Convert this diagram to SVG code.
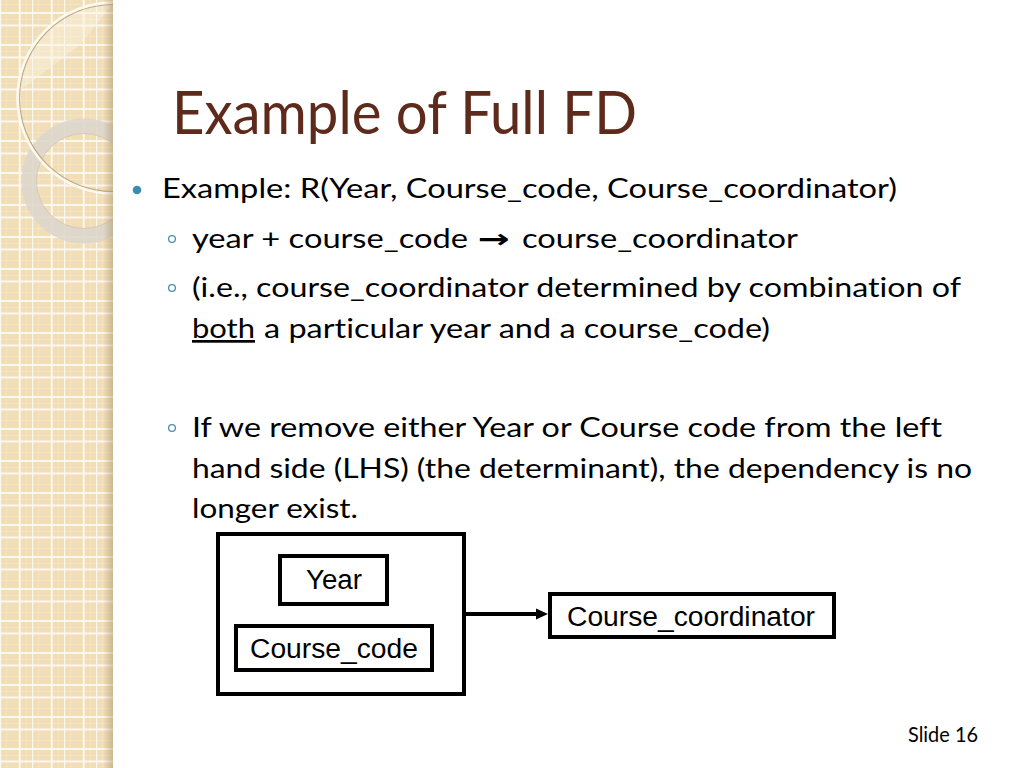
<svg xmlns="http://www.w3.org/2000/svg" width="1024" height="768" viewBox="0 0 1024 768">
  <defs>
    <style>
      .body { font-family: Lato, "Open Sans", "Liberation Sans", sans-serif; font-size: 27px; fill: #000; font-variant-ligatures: none; }
      .title { font-family: Lato, "Open Sans", "Liberation Sans", sans-serif; font-size: 60px; fill: #5e2a1b; font-variant-ligatures: none; }
      .foot { font-family: Lato, "Open Sans", "Liberation Sans", sans-serif; font-size: 21px; fill: #000; }
      .box { fill: #fff; stroke: #000; stroke-width: 4; }
      .lbl { font-family: "Liberation Sans", Arial, sans-serif; font-size: 27px; fill: #000; }
      .sub { fill: none; stroke: #4a8fae; stroke-width: 1.3; }
    </style>
    <pattern id="grid" x="0" y="0" width="32" height="32" patternUnits="userSpaceOnUse">
      <rect width="32" height="32" fill="#f1ddb6"/>
      <rect x="6" y="0" width="1" height="32" fill="#f6e7cb" opacity="0.7"/>
      <rect x="26" y="0" width="1" height="32" fill="#f6e7cb" opacity="0.7"/>
      <rect x="0" y="4" width="32" height="1" fill="#f6e7cb" opacity="0.7"/>
      <rect x="0" y="19" width="32" height="1" fill="#f6e7cb" opacity="0.7"/>
      <rect x="-0.8" y="0" width="2" height="32" fill="#fdf8ee"/>
      <rect x="18.7" y="0" width="2" height="32" fill="#fdf8ee"/>
      <rect x="0" y="12" width="32" height="2" fill="#fdf8ee"/>
      <rect x="0" y="24.5" width="32" height="2" fill="#fdf8ee"/>
    </pattern>
    <linearGradient id="edge" x1="0" y1="0" x2="1" y2="0">
      <stop offset="0" stop-color="#a08660" stop-opacity="0"/>
      <stop offset="1" stop-color="#a08660" stop-opacity="0.45"/>
    </linearGradient>
    <clipPath id="panel">
      <rect x="0" y="0" width="113" height="768"/>
    </clipPath>
    <clipPath id="bigc">
      <circle cx="113" cy="98" r="94"/>
    </clipPath>
    <marker id="arrow" viewBox="0 0 12 12" refX="1" refY="6" markerWidth="12" markerHeight="12" markerUnits="userSpaceOnUse" orient="auto">
      <path d="M0,0.5 L12,6 L0,11.5 z" fill="#000"/>
    </marker>
  </defs>

  <rect width="1024" height="768" fill="#fff"/>

  <!-- decorative side panel -->
  <g id="side-panel">
    <rect x="0" y="0" width="113" height="768" fill="url(#grid)"/>
    <g clip-path="url(#panel)">
      <path d="M0,0 L113,0 L113,3 L80,45 L18,92 L0,92 z" fill="#fbf3e3" opacity="0.45" clip-path="url(#bigc)"/>
      <circle cx="84" cy="181" r="55" fill="none" stroke="#ddd7cc" stroke-width="15" opacity="0.92"/>
      <circle cx="84" cy="181" r="47.5" fill="none" stroke="#c9bca6" stroke-width="1" opacity="0.6"/>
      <circle cx="113" cy="98" r="93.5" fill="none" stroke="#b49c76" stroke-width="1.2" opacity="0.8"/>
      <circle cx="113" cy="98" r="95.5" fill="none" stroke="#fdfaf2" stroke-width="2.5"/>
    </g>
    <rect x="103" y="0" width="10" height="768" fill="url(#edge)"/>
  </g>

  <!-- title -->
  <text id="title" class="title" x="172" y="134" textLength="465" lengthAdjust="spacingAndGlyphs">Example of Full FD</text>

  <!-- bullets -->
  <g id="bullets">
    <circle cx="137" cy="190" r="4.3" fill="#3b8db0"/>
    <text class="body" x="162" y="198" textLength="735" lengthAdjust="spacingAndGlyphs">Example: R(Year, Course_code, Course_coordinator)</text>

    <circle class="sub" cx="172" cy="239" r="3.4"/>
    <text class="body" x="192" y="248" textLength="276" lengthAdjust="spacingAndGlyphs">year + course_code</text>
    <text class="body" x="478" y="248" textLength="32" lengthAdjust="spacingAndGlyphs" style="font-family:'DejaVu Sans',sans-serif;font-weight:bold;font-size:26px">→</text>
    <text class="body" x="522" y="248" textLength="276" lengthAdjust="spacingAndGlyphs">course_coordinator</text>

    <circle class="sub" cx="172" cy="288" r="3.4"/>
    <text class="body" x="192" y="297" textLength="769" lengthAdjust="spacingAndGlyphs">(i.e., course_coordinator determined by combination of</text>
    <text class="body" x="192" y="338" textLength="63" lengthAdjust="spacingAndGlyphs" text-decoration="underline">both</text>
    <text class="body" x="264" y="338" textLength="506" lengthAdjust="spacingAndGlyphs">a particular year and a course_code)</text>

    <circle class="sub" cx="172" cy="428" r="3.4"/>
    <text class="body" x="192" y="437" textLength="750" lengthAdjust="spacingAndGlyphs">If we remove either Year or Course code from the left</text>
    <text class="body" x="192" y="478" textLength="780" lengthAdjust="spacingAndGlyphs">hand side (LHS) (the determinant), the dependency is no</text>
    <text class="body" x="192" y="518" textLength="166" lengthAdjust="spacingAndGlyphs">longer exist.</text>
  </g>

  <!-- connectors -->
  <g id="connectors">
    <line x1="466" y1="614" x2="537" y2="614" stroke="#000" stroke-width="4" marker-end="url(#arrow)"/>
  </g>

  <!-- nodes -->
  <g id="node-lhs">
    <rect class="box" x="218" y="534" width="246" height="160"/>
  </g>
  <g id="node-year">
    <rect class="box" x="280" y="556" width="107" height="48"/>
    <text class="lbl" x="306" y="589" textLength="56" lengthAdjust="spacingAndGlyphs">Year</text>
  </g>
  <g id="node-course-code">
    <rect class="box" x="236" y="626" width="196" height="44"/>
    <text class="lbl" x="250" y="658" textLength="168" lengthAdjust="spacingAndGlyphs">Course_code</text>
  </g>
  <g id="node-course-coordinator">
    <rect class="box" x="550" y="594" width="284" height="43"/>
    <text class="lbl" x="567" y="626" textLength="248" lengthAdjust="spacingAndGlyphs">Course_coordinator</text>
  </g>

  <text id="footer" class="foot" x="908" y="742" textLength="70" lengthAdjust="spacingAndGlyphs">Slide 16</text>
</svg>
